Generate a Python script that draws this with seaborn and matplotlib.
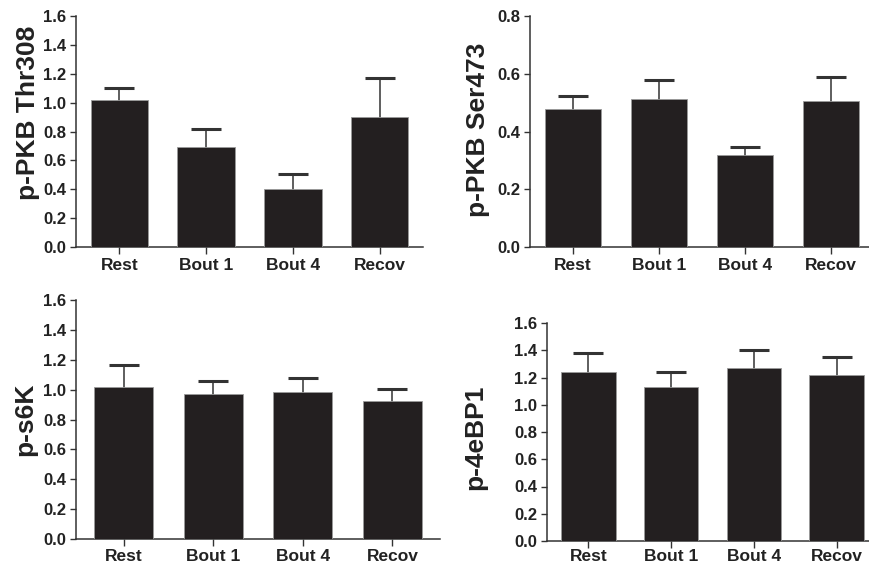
import pandas as pd
import matplotlib
matplotlib.use("Agg")
import matplotlib.pyplot as plt
import seaborn as sns

groups = ['Rest', 'Bout 1', 'Bout 4', 'Recov']

pkb_thr308 = [1.02, 0.69, 0.40, 0.90]
pkb_thr308_err = [0.08, 0.125, 0.105, 0.27]

pkb_ser473 = [0.478, 0.512, 0.317, 0.504]
pkb_ser473_err = [0.046, 0.065, 0.031, 0.086]

s6k = [1.02, 0.97, 0.985, 0.925]
s6k_err = [0.145, 0.085, 0.09, 0.082]

eb4p1 = [1.244, 1.128, 1.273, 1.216]
eb4p1_err = [0.138, 0.116, 0.129, 0.135]

sns.set_theme(style="ticks")
plt.rcParams['font.family'] = ['Liberation Sans', 'DejaVu Sans']
plt.rcParams['font.weight'] = 'bold'

W, H = 870, 569
fig = plt.figure(figsize=(8.7, 5.69), dpi=100)

# values, errors, label, ymax, axes box in px (left, top, right, bottom), label centre px, xlim, x tick pad
panels = [
    (pkb_thr308, pkb_thr308_err, 'p-PKB Thr308', 1.6, (76, 16, 423, 247), (28, 113), (-0.5, 3.5), 3),
    (pkb_ser473, pkb_ser473_err, 'p-PKB Ser473', 0.8, (530, 16, 874, 247), (478, 130), (-0.5, 3.5), 3),
    (s6k, s6k_err, 'p-s6K', 1.6, (76, 300, 440, 539), (25, 419), (-0.53, 3.53), 2),
    (eb4p1, eb4p1_err, 'p-4eBP1', 1.6, (547, 323, 878, 541), (475, 437), (-0.5, 3.5), 0.5),
]

dark = '#333333'
for vals, errs, label, ymax, box, lab, xlim, xpad in panels:
    l, t, r, b = box
    ax = fig.add_axes([l / W, 1 - b / H, (r - l) / W, (b - t) / H])
    df = pd.DataFrame({'group': groups, 'value': vals})
    # error bars sit behind the bars, so only the upper half shows
    ax.errorbar(range(len(groups)), vals, yerr=errs,
                fmt='none', ecolor=dark, elinewidth=1.1, capsize=11,
                capthick=2.2, zorder=2)
    sns.barplot(data=df, x='group', y='value', ax=ax, color='#231f20',
                saturation=1, width=0.66, errorbar=None,
                edgecolor='#9a9a9a', linewidth=0.6, zorder=3)
    ax.set_xlim(*xlim)
    ax.set_ylim(0, ymax)
    n = int(round(ymax / 0.2))
    ax.set_yticks([i * 0.2 for i in range(n + 1)])
    ax.set_yticklabels([f'{i * 0.2:.1f}' for i in range(n + 1)])
    ax.set_xlabel('')
    ax.set_ylabel(label, fontsize=19, fontweight='bold', color='#222222')
    ax.yaxis.set_label_coords(lab[0] / W, 1 - lab[1] / H, transform=fig.transFigure)
    ax.yaxis.label.set_va('center')
    ax.yaxis.label.set_ha('center')
    sns.despine(ax=ax)
    for s in ['left', 'bottom']:
        ax.spines[s].set_color(dark)
        ax.spines[s].set_linewidth(1.1)
    ax.tick_params(axis='y', labelsize=12, length=4.5, width=1.0, color=dark,
                   pad=2.5, labelcolor='#222222')
    ax.tick_params(axis='x', labelsize=12.5, length=5, width=1.0, color=dark,
                   pad=xpad, labelcolor='#222222')
    for tl in ax.get_xticklabels() + ax.get_yticklabels():
        tl.set_fontweight('bold')

fig.savefig('out.png', dpi=100)
